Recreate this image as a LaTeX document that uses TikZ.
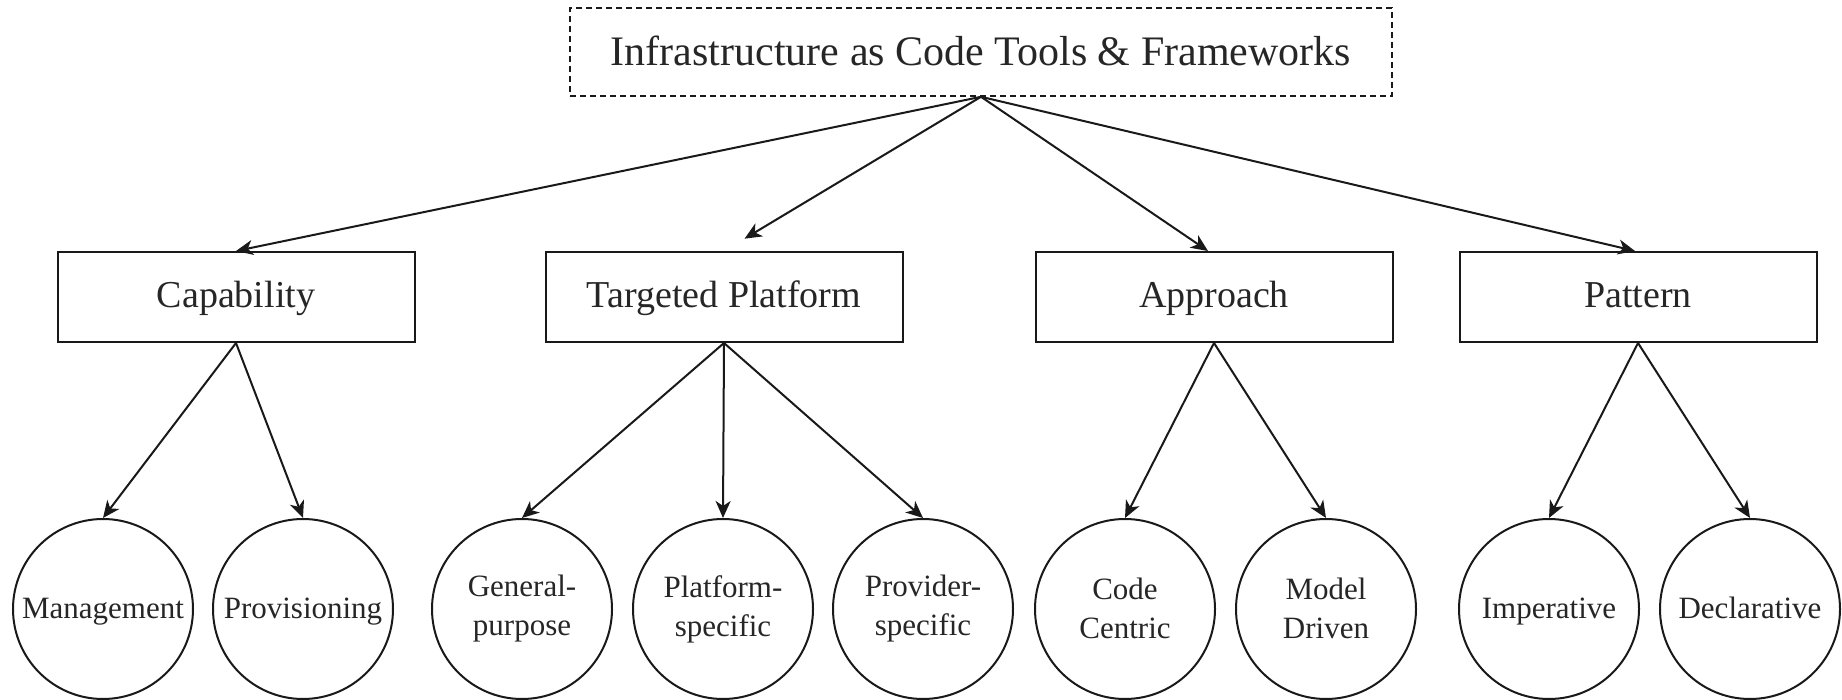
\documentclass[tikz,border=0pt]{standalone}
\usepackage{fontspec}
\setmainfont{Liberation Serif}
\usetikzlibrary{arrows.meta}
\begin{document}
\begin{tikzpicture}[x=1pt,y=-1pt,
  titlebox/.style={draw=black!90, dash pattern=on 6pt off 4pt, line width=1.6pt, minimum width=822pt, minimum height=88pt, inner sep=0pt, text height=31pt, text depth=4pt, text=black!85, font=\fontsize{42}{50}\selectfont},
  catbox/.style={draw=black!90, line width=2pt, minimum width=357pt, minimum height=90pt, inner sep=0pt, text height=28pt, text depth=6.5pt, text=black!85, font=\fontsize{38}{46}\selectfont},
  leaf/.style={draw=black!90, circle, line width=2pt, minimum size=180pt, inner sep=0pt, align=center, text=black!85, font=\fontsize{31}{39}\selectfont},
  leafone/.style={leaf, text height=23pt, text depth=4.5pt},
  conn/.style={draw=black!90, line width=2pt, -{Stealth[length=17pt,width=15pt,inset=5pt]}}
]
\useasboundingbox (0,0) rectangle (1842,700);

\node[titlebox] (top) at (981,52) {Infrastructure as Code Tools \& Frameworks};

\node[catbox] (cap) at (236,297) {Capability};
\node[catbox] (tp)  at (724,297) {Targeted Platform};
\node[catbox] (app) at (1214,297) {Approach};
\node[catbox] (pat) at (1638,297) {Pattern};

\node[leafone] (mgmt) at (103,609) {Management};
\node[leafone] (prov) at (303,609) {Provisioning};
\node[leaf] (gen)  at (522,609) {General-\\purpose};
\node[leaf] (plat) at (723,609) {Platform-\\specific};
\node[leaf] (provs) at (923,609) {Provider-\\specific};
\node[leaf, text depth=2pt] (code) at (1125,609) {Code\\Centric};
\node[leaf, text depth=2pt] (model) at (1326,609) {Model\\Driven};
\node[leafone] (imp) at (1549,609) {Imperative};
\node[leafone] (decl) at (1750,609) {Declarative};

\draw[conn] (top.south) -- (cap.north);
\draw[conn, shorten >=24pt] (top.south) -- (tp.north);
\draw[conn] (top.south) -- ([xshift=-6pt]app.north);
\draw[conn] (top.south) -- ([xshift=-3pt]pat.north);

\draw[conn] (cap.south) -- (mgmt.north);
\draw[conn] (cap.south) -- (prov.north);
\draw[conn] (tp.south) -- (gen.north);
\draw[conn] (tp.south) -- (plat.north);
\draw[conn] (tp.south) -- (provs.north);
\draw[conn] (app.south) -- (code.north);
\draw[conn] (app.south) -- (model.north);
\draw[conn] (pat.south) -- (imp.north);
\draw[conn] (pat.south) -- (decl.north);
\end{tikzpicture}
\end{document}
